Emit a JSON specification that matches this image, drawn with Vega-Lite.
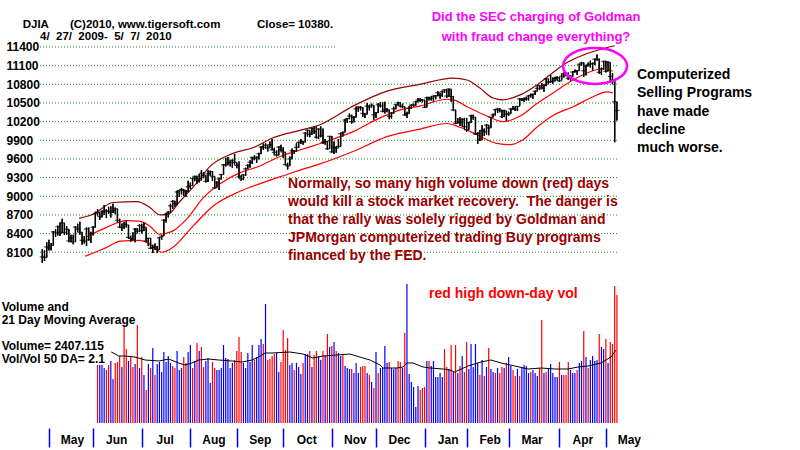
{
"$schema":"https://vega.github.io/schema/vega-lite/v6.json",
"width":760,"height":428,
"autosize":{"type":"none"},
"padding":{"left":40,"top":0,"right":0,"bottom":22},
"background":"white",
"config":{"view":{"stroke":null},"text":{"font":"Liberation Sans"}},
"datasets":{
"levels":[{"p":8100},{"p":8400},{"p":8700},{"p":9000},{"p":9300},{"p":9600},{"p":9900},{"p":10200},{"p":10500},{"p":10800},{"p":11100},{"p":11400}],
"price":[
{"i":0,"c":8025,"h":8150,"l":7930},{"i":1,"c":8017,"h":8130,"l":7960},{"i":2,"c":8186,"h":8260,"l":8017},{"i":3,"c":8168,"h":8300,"l":8130},{"i":4,"c":8212,"h":8250,"l":8130},{"i":5,"c":8427,"h":8440,"l":8210},{"i":6,"c":8411,"h":8470,"l":8350},{"i":7,"c":8512,"h":8530,"l":8370},{"i":8,"c":8410,"h":8580,"l":8360},{"i":9,"c":8575,"h":8640,"l":8410},
{"i":10,"c":8419,"h":8570,"l":8380},{"i":11,"c":8469,"h":8520,"l":8380},{"i":12,"c":8285,"h":8470,"l":8260},{"i":13,"c":8331,"h":8380,"l":8260},{"i":14,"c":8269,"h":8380,"l":8230},{"i":15,"c":8504,"h":8520,"l":8270},{"i":16,"c":8475,"h":8560,"l":8430},{"i":17,"c":8422,"h":8590,"l":8380},{"i":18,"c":8292,"h":8420,"l":8220},{"i":19,"c":8277,"h":8360,"l":8240},
{"i":20,"c":8473,"h":8500,"l":8200},{"i":21,"c":8300,"h":8500,"l":8290},{"i":22,"c":8404,"h":8430,"l":8250},{"i":23,"c":8500,"h":8520,"l":8370},{"i":24,"c":8721,"h":8750,"l":8500},{"i":25,"c":8741,"h":8790,"l":8690},{"i":26,"c":8675,"h":8740,"l":8620},{"i":27,"c":8750,"h":8770,"l":8660},{"i":28,"c":8763,"h":8860,"l":8700},{"i":29,"c":8764,"h":8790,"l":8650},
{"i":30,"c":8763,"h":8830,"l":8720},{"i":31,"c":8739,"h":8840,"l":8660},{"i":32,"c":8771,"h":8880,"l":8730},{"i":33,"c":8799,"h":8820,"l":8710},{"i":34,"c":8612,"h":8800,"l":8580},{"i":35,"c":8505,"h":8640,"l":8490},{"i":36,"c":8497,"h":8560,"l":8440},{"i":37,"c":8556,"h":8590,"l":8480},{"i":38,"c":8540,"h":8610,"l":8500},{"i":39,"c":8339,"h":8540,"l":8320},
{"i":40,"c":8323,"h":8370,"l":8270},{"i":41,"c":8300,"h":8420,"l":8290},{"i":42,"c":8472,"h":8490,"l":8260},{"i":43,"c":8438,"h":8490,"l":8400},{"i":44,"c":8529,"h":8550,"l":8430},{"i":45,"c":8447,"h":8560,"l":8400},{"i":46,"c":8504,"h":8580,"l":8440},{"i":47,"c":8281,"h":8500,"l":8260},{"i":48,"c":8325,"h":8330,"l":8200},{"i":49,"c":8164,"h":8330,"l":8150},
{"i":50,"c":8178,"h":8220,"l":8090},{"i":51,"c":8183,"h":8240,"l":8140},{"i":52,"c":8147,"h":8200,"l":8090},{"i":53,"c":8332,"h":8340,"l":8140},{"i":54,"c":8359,"h":8380,"l":8300},{"i":55,"c":8616,"h":8630,"l":8360},{"i":56,"c":8712,"h":8730,"l":8580},{"i":57,"c":8744,"h":8760,"l":8660},{"i":58,"c":8848,"h":8880,"l":8740},{"i":59,"c":8916,"h":8940,"l":8800},
{"i":60,"c":8881,"h":8930,"l":8830},{"i":61,"c":9069,"h":9090,"l":8860},{"i":62,"c":9093,"h":9100,"l":8990},{"i":63,"c":9109,"h":9130,"l":9030},{"i":64,"c":9097,"h":9110,"l":9010},{"i":65,"c":9071,"h":9100,"l":8990},{"i":66,"c":9154,"h":9250,"l":9070},{"i":67,"c":9172,"h":9220,"l":9120},{"i":68,"c":9287,"h":9300,"l":9170},{"i":69,"c":9320,"h":9330,"l":9240},
{"i":70,"c":9281,"h":9330,"l":9200},{"i":71,"c":9256,"h":9360,"l":9220},{"i":72,"c":9370,"h":9420,"l":9260},{"i":73,"c":9338,"h":9390,"l":9290},{"i":74,"c":9241,"h":9340,"l":9220},{"i":75,"c":9362,"h":9420,"l":9230},{"i":76,"c":9398,"h":9410,"l":9330},{"i":77,"c":9321,"h":9400,"l":9250},{"i":78,"c":9135,"h":9320,"l":9120},{"i":79,"c":9218,"h":9240,"l":9140},
{"i":80,"c":9279,"h":9300,"l":9100},{"i":81,"c":9350,"h":9360,"l":9270},{"i":82,"c":9506,"h":9520,"l":9350},{"i":83,"c":9509,"h":9620,"l":9480},{"i":84,"c":9539,"h":9630,"l":9500},{"i":85,"c":9544,"h":9580,"l":9480},{"i":86,"c":9581,"h":9590,"l":9460},{"i":87,"c":9544,"h":9680,"l":9510},{"i":88,"c":9496,"h":9540,"l":9450},{"i":89,"c":9311,"h":9560,"l":9290},
{"i":90,"c":9281,"h":9340,"l":9250},{"i":91,"c":9345,"h":9350,"l":9260},{"i":92,"c":9441,"h":9460,"l":9330},{"i":93,"c":9497,"h":9510,"l":9440},{"i":94,"c":9547,"h":9580,"l":9460},{"i":95,"c":9627,"h":9630,"l":9520},{"i":96,"c":9605,"h":9660,"l":9580},{"i":97,"c":9627,"h":9640,"l":9540},{"i":98,"c":9683,"h":9700,"l":9590},{"i":99,"c":9792,"h":9800,"l":9680},
{"i":100,"c":9784,"h":9850,"l":9750},{"i":101,"c":9820,"h":9850,"l":9770},{"i":102,"c":9779,"h":9820,"l":9720},{"i":103,"c":9830,"h":9880,"l":9780},{"i":104,"c":9749,"h":9920,"l":9740},{"i":105,"c":9707,"h":9780,"l":9660},{"i":106,"c":9665,"h":9740,"l":9640},{"i":107,"c":9789,"h":9810,"l":9660},{"i":108,"c":9742,"h":9830,"l":9720},{"i":109,"c":9712,"h":9790,"l":9620},
{"i":110,"c":9509,"h":9710,"l":9500},{"i":111,"c":9488,"h":9540,"l":9430},{"i":112,"c":9600,"h":9640,"l":9490},{"i":113,"c":9731,"h":9770,"l":9600},{"i":114,"c":9726,"h":9740,"l":9680},{"i":115,"c":9787,"h":9850,"l":9720},{"i":116,"c":9865,"h":9870,"l":9780},{"i":117,"c":9886,"h":9920,"l":9840},{"i":118,"c":9871,"h":9890,"l":9830},{"i":119,"c":10016,"h":10030,"l":9870},
{"i":120,"c":10063,"h":10070,"l":9960},{"i":121,"c":9996,"h":10060,"l":9950},{"i":122,"c":10092,"h":10100,"l":9990},{"i":123,"c":10042,"h":10120,"l":10000},{"i":124,"c":9949,"h":10120,"l":9930},{"i":125,"c":10081,"h":10090,"l":9920},{"i":126,"c":9972,"h":10120,"l":9950},{"i":127,"c":9868,"h":10090,"l":9840},{"i":128,"c":9882,"h":9920,"l":9830},{"i":129,"c":9763,"h":9890,"l":9750},
{"i":130,"c":9963,"h":9970,"l":9760},{"i":131,"c":9713,"h":9970,"l":9700},{"i":132,"c":9789,"h":9880,"l":9680},{"i":133,"c":9772,"h":9800,"l":9700},{"i":134,"c":9802,"h":9920,"l":9780},{"i":135,"c":10006,"h":10020,"l":9800},{"i":136,"c":10023,"h":10040,"l":9960},{"i":137,"c":10227,"h":10240,"l":10030},{"i":138,"c":10247,"h":10260,"l":10180},{"i":139,"c":10291,"h":10330,"l":10240},
{"i":140,"c":10197,"h":10310,"l":10170},{"i":141,"c":10270,"h":10290,"l":10190},{"i":142,"c":10407,"h":10440,"l":10270},{"i":143,"c":10437,"h":10440,"l":10360},{"i":144,"c":10426,"h":10450,"l":10380},{"i":145,"c":10332,"h":10430,"l":10280},{"i":146,"c":10318,"h":10340,"l":10260},{"i":147,"c":10451,"h":10500,"l":10320},{"i":148,"c":10434,"h":10470,"l":10380},{"i":149,"c":10464,"h":10490,"l":10430},
{"i":150,"c":10310,"h":10460,"l":10230},{"i":151,"c":10345,"h":10350,"l":10260},{"i":152,"c":10472,"h":10500,"l":10340},{"i":153,"c":10453,"h":10510,"l":10430},{"i":154,"c":10366,"h":10510,"l":10350},{"i":155,"c":10389,"h":10520,"l":10330},{"i":156,"c":10390,"h":10420,"l":10350},{"i":157,"c":10286,"h":10390,"l":10240},{"i":158,"c":10337,"h":10350,"l":10250},{"i":159,"c":10406,"h":10440,"l":10330},
{"i":160,"c":10472,"h":10480,"l":10400},{"i":161,"c":10501,"h":10520,"l":10460},{"i":162,"c":10452,"h":10510,"l":10430},{"i":163,"c":10441,"h":10490,"l":10420},{"i":164,"c":10308,"h":10440,"l":10290},{"i":165,"c":10329,"h":10360,"l":10260},{"i":166,"c":10414,"h":10450,"l":10330},{"i":167,"c":10465,"h":10480,"l":10410},{"i":168,"c":10466,"h":10490,"l":10440},{"i":169,"c":10520,"h":10530,"l":10460},
{"i":170,"c":10547,"h":10580,"l":10510},{"i":171,"c":10545,"h":10580,"l":10520},{"i":172,"c":10549,"h":10560,"l":10510},{"i":173,"c":10428,"h":10550,"l":10420},{"i":174,"c":10584,"h":10600,"l":10430},{"i":175,"c":10572,"h":10600,"l":10540},{"i":176,"c":10574,"h":10610,"l":10540},{"i":177,"c":10607,"h":10620,"l":10520},{"i":178,"c":10618,"h":10630,"l":10560},{"i":179,"c":10664,"h":10690,"l":10610},
{"i":180,"c":10627,"h":10660,"l":10570},{"i":181,"c":10681,"h":10700,"l":10600},{"i":182,"c":10711,"h":10720,"l":10660},{"i":183,"c":10610,"h":10720,"l":10580},{"i":184,"c":10725,"h":10730,"l":10600},{"i":185,"c":10603,"h":10720,"l":10520},{"i":186,"c":10390,"h":10610,"l":10370},{"i":187,"c":10173,"h":10390,"l":10160},{"i":188,"c":10197,"h":10260,"l":10170},{"i":189,"c":10194,"h":10270,"l":10130},
{"i":190,"c":10236,"h":10250,"l":10120},{"i":191,"c":10120,"h":10260,"l":10080},{"i":192,"c":10067,"h":10260,"l":10040},{"i":193,"c":10186,"h":10190,"l":10070},{"i":194,"c":10297,"h":10310,"l":10180},{"i":195,"c":10271,"h":10310,"l":10230},{"i":196,"c":10002,"h":10270,"l":9990},{"i":197,"c":10012,"h":10030,"l":9840},{"i":198,"c":9908,"h":10060,"l":9890},{"i":199,"c":10059,"h":10140,"l":9910},
{"i":200,"c":10038,"h":10090,"l":9970},{"i":201,"c":10144,"h":10160,"l":9990},{"i":202,"c":10099,"h":10140,"l":9980},{"i":203,"c":10269,"h":10280,"l":10100},{"i":204,"c":10309,"h":10330,"l":10270},{"i":205,"c":10393,"h":10400,"l":10300},{"i":206,"c":10402,"h":10420,"l":10340},{"i":207,"c":10383,"h":10420,"l":10350},{"i":208,"c":10282,"h":10390,"l":10260},{"i":209,"c":10374,"h":10390,"l":10280},
{"i":210,"c":10321,"h":10370,"l":10210},{"i":211,"c":10325,"h":10360,"l":10290},{"i":212,"c":10404,"h":10410,"l":10330},{"i":213,"c":10406,"h":10450,"l":10390},{"i":214,"c":10397,"h":10450,"l":10370},{"i":215,"c":10444,"h":10450,"l":10370},{"i":216,"c":10566,"h":10580,"l":10450},{"i":217,"c":10553,"h":10580,"l":10530},{"i":218,"c":10564,"h":10590,"l":10520},{"i":219,"c":10567,"h":10600,"l":10540},
{"i":220,"c":10612,"h":10620,"l":10540},{"i":221,"c":10625,"h":10650,"l":10590},{"i":222,"c":10642,"h":10650,"l":10570},{"i":223,"c":10686,"h":10700,"l":10630},{"i":224,"c":10734,"h":10780,"l":10690},{"i":225,"c":10779,"h":10790,"l":10710},{"i":226,"c":10742,"h":10820,"l":10720},{"i":227,"c":10786,"h":10800,"l":10680},{"i":228,"c":10889,"h":10900,"l":10770},{"i":229,"c":10836,"h":10890,"l":10800},
{"i":230,"c":10841,"h":10950,"l":10830},{"i":231,"c":10850,"h":10910,"l":10810},{"i":232,"c":10896,"h":10920,"l":10850},{"i":233,"c":10907,"h":10930,"l":10860},{"i":234,"c":10857,"h":10920,"l":10840},{"i":235,"c":10927,"h":10970,"l":10860},{"i":236,"c":10974,"h":10990,"l":10910},{"i":237,"c":10970,"h":11000,"l":10930},{"i":238,"c":10898,"h":10990,"l":10870},{"i":239,"c":10927,"h":10950,"l":10860},
{"i":240,"c":10997,"h":11010,"l":10920},{"i":241,"c":11006,"h":11040,"l":10990},{"i":242,"c":11019,"h":11030,"l":10950},{"i":243,"c":11123,"h":11130,"l":11020},{"i":244,"c":11145,"h":11160,"l":11100},{"i":245,"c":11019,"h":11150,"l":10920},{"i":246,"c":11092,"h":11110,"l":10940},{"i":247,"c":11117,"h":11150,"l":11090},{"i":248,"c":11125,"h":11180,"l":11070},{"i":249,"c":11134,"h":11150,"l":11020},
{"i":250,"c":11204,"h":11210,"l":11110},{"i":251,"c":11205,"h":11280,"l":11180},{"i":252,"c":10992,"h":11210,"l":10970},{"i":253,"c":11045,"h":11070,"l":10950},{"i":254,"c":11167,"h":11180,"l":11040},{"i":255,"c":11009,"h":11180,"l":10990},{"i":256,"c":11152,"h":11170,"l":11010},{"i":257,"c":10927,"h":11150,"l":10850},{"i":258,"c":10868,"h":10980,"l":10800},{"i":259,"c":10520,"h":10880,"l":9870},
{"i":260,"c":10380,"h":10520,"l":10220}],
"bands":[
{"b":"u","i":16.6,"p":8645},{"b":"u","i":23,"p":8710},{"b":"u","i":32,"p":8900},{"b":"u","i":42.9,"p":8915},{"b":"u","i":48.7,"p":8820},{"b":"u","i":53.3,"p":8700},{"b":"u","i":56.9,"p":8710},{"b":"u","i":62.3,"p":8920},{"b":"u","i":70,"p":9220},{"b":"u","i":75.9,"p":9480},{"b":"u","i":86.3,"p":9690},{"b":"u","i":95.3,"p":9780},{"b":"u","i":104.4,"p":9940},{"b":"u","i":116.6,"p":10060},{"b":"u","i":125.6,"p":10150},{"b":"u","i":140.6,"p":10450},{"b":"u","i":156,"p":10690},{"b":"u","i":170.9,"p":10800},{"b":"u","i":185.8,"p":10900},{"b":"u","i":192.2,"p":10870},{"b":"u","i":198,"p":10740},{"b":"u","i":203.9,"p":10580},{"b":"u","i":208.5,"p":10550},{"b":"u","i":216.2,"p":10630},{"b":"u","i":223.8,"p":10790},{"b":"u","i":231.1,"p":10990},{"b":"u","i":237.4,"p":11150},{"b":"u","i":244.7,"p":11270},{"b":"u","i":252.4,"p":11360},{"b":"u","i":259,"p":11420},
{"b":"m","i":20,"p":8345},{"b":"m","i":29,"p":8500},{"b":"m","i":38,"p":8610},{"b":"m","i":44,"p":8600},{"b":"m","i":49,"p":8510},{"b":"m","i":53,"p":8390},{"b":"m","i":59,"p":8440},{"b":"m","i":65.5,"p":8640},{"b":"m","i":72.7,"p":8970},{"b":"m","i":80.4,"p":9200},{"b":"m","i":89.5,"p":9380},{"b":"m","i":97.2,"p":9470},{"b":"m","i":107.6,"p":9640},{"b":"m","i":118,"p":9760},{"b":"m","i":130.2,"p":9900},{"b":"m","i":140.6,"p":10040},{"b":"m","i":152.8,"p":10260},{"b":"m","i":163.2,"p":10400},{"b":"m","i":170.9,"p":10450},{"b":"m","i":183.1,"p":10560},{"b":"m","i":186,"p":10550},{"b":"m","i":192.2,"p":10440},{"b":"m","i":201.2,"p":10290},{"b":"m","i":208.5,"p":10200},{"b":"m","i":216.2,"p":10290},{"b":"m","i":223.8,"p":10490},{"b":"m","i":231.1,"p":10660},{"b":"m","i":237.4,"p":10810},{"b":"m","i":243.3,"p":10930},{"b":"m","i":253.7,"p":11050},{"b":"m","i":258.2,"p":11010},
{"b":"l","i":19.3,"p":8035},{"b":"l","i":29.3,"p":8180},{"b":"l","i":35.2,"p":8280},{"b":"l","i":44.2,"p":8290},{"b":"l","i":48.7,"p":8230},{"b":"l","i":54.2,"p":8100},{"b":"l","i":59.1,"p":8180},{"b":"l","i":68.2,"p":8520},{"b":"l","i":77.2,"p":8840},{"b":"l","i":89.5,"p":9080},{"b":"l","i":99.9,"p":9220},{"b":"l","i":110.7,"p":9350},{"b":"l","i":116.6,"p":9420},{"b":"l","i":125.6,"p":9520},{"b":"l","i":140.6,"p":9720},{"b":"l","i":156,"p":9960},{"b":"l","i":170.9,"p":10080},{"b":"l","i":183.1,"p":10170},{"b":"l","i":189,"p":10110},{"b":"l","i":196.7,"p":9990},{"b":"l","i":205.7,"p":9850},{"b":"l","i":211.6,"p":9830},{"b":"l","i":217.5,"p":9910},{"b":"l","i":223.8,"p":10110},{"b":"l","i":231.1,"p":10300},{"b":"l","i":240.2,"p":10440},{"b":"l","i":249.2,"p":10600},{"b":"l","i":255.5,"p":10680},{"b":"l","i":258.2,"p":10660}],
"vol":[
{"i":25,"v":58,"d":"down"},{"i":26,"v":58,"d":"up"},{"i":27,"v":58,"d":"up"},{"i":28,"v":55,"d":"up"},{"i":29,"v":53,"d":"down"},{"i":30,"v":58,"d":"down"},{"i":31,"v":62,"d":"up"},{"i":32,"v":44,"d":"up"},{"i":33,"v":60,"d":"down"},{"i":34,"v":61,"d":"down"},
{"i":35,"v":67,"d":"down"},{"i":36,"v":56,"d":"up"},{"i":37,"v":98,"d":"down"},{"i":38,"v":74,"d":"down"},{"i":39,"v":62,"d":"up"},{"i":40,"v":67,"d":"down"},{"i":41,"v":56,"d":"down"},{"i":42,"v":59,"d":"up"},{"i":43,"v":98,"d":"down"},{"i":44,"v":55,"d":"up"},
{"i":45,"v":66,"d":"down"},{"i":46,"v":48,"d":"up"},{"i":47,"v":33,"d":"down"},{"i":48,"v":59,"d":"up"},{"i":49,"v":55,"d":"down"},{"i":50,"v":75,"d":"up"},{"i":51,"v":48,"d":"down"},{"i":52,"v":59,"d":"up"},{"i":53,"v":61,"d":"up"},{"i":54,"v":51,"d":"up"},
{"i":55,"v":71,"d":"up"},{"i":56,"v":61,"d":"up"},{"i":57,"v":67,"d":"up"},{"i":58,"v":60,"d":"up"},{"i":59,"v":57,"d":"down"},{"i":60,"v":55,"d":"down"},{"i":61,"v":72,"d":"up"},{"i":62,"v":53,"d":"up"},{"i":63,"v":55,"d":"up"},{"i":64,"v":66,"d":"down"},
{"i":65,"v":60,"d":"down"},{"i":66,"v":71,"d":"up"},{"i":67,"v":78,"d":"up"},{"i":68,"v":55,"d":"down"},{"i":69,"v":62,"d":"up"},{"i":70,"v":80,"d":"down"},{"i":71,"v":72,"d":"up"},{"i":72,"v":76,"d":"down"},{"i":73,"v":56,"d":"down"},{"i":74,"v":62,"d":"up"},
{"i":75,"v":65,"d":"up"},{"i":76,"v":40,"d":"up"},{"i":77,"v":61,"d":"down"},{"i":78,"v":55,"d":"down"},{"i":79,"v":53,"d":"up"},{"i":80,"v":53,"d":"up"},{"i":81,"v":55,"d":"up"},{"i":82,"v":78,"d":"up"},{"i":83,"v":65,"d":"up"},{"i":84,"v":64,"d":"up"},
{"i":85,"v":55,"d":"up"},{"i":86,"v":60,"d":"up"},{"i":87,"v":63,"d":"down"},{"i":88,"v":72,"d":"down"},{"i":89,"v":86,"d":"down"},{"i":90,"v":71,"d":"down"},{"i":91,"v":60,"d":"up"},{"i":92,"v":55,"d":"up"},{"i":93,"v":70,"d":"up"},{"i":94,"v":61,"d":"up"},
{"i":95,"v":78,"d":"up"},{"i":96,"v":63,"d":"down"},{"i":97,"v":66,"d":"up"},{"i":98,"v":78,"d":"up"},{"i":99,"v":84,"d":"up"},{"i":100,"v":79,"d":"down"},{"i":101,"v":119,"d":"up"},{"i":102,"v":63,"d":"down"},{"i":103,"v":64,"d":"down"},{"i":104,"v":67,"d":"down"},
{"i":105,"v":69,"d":"down"},{"i":106,"v":70,"d":"up"},{"i":107,"v":51,"d":"up"},{"i":108,"v":61,"d":"down"},{"i":109,"v":93,"d":"down"},{"i":110,"v":73,"d":"down"},{"i":111,"v":85,"d":"down"},{"i":112,"v":58,"d":"up"},{"i":113,"v":60,"d":"up"},{"i":114,"v":53,"d":"down"},
{"i":115,"v":60,"d":"up"},{"i":116,"v":56,"d":"up"},{"i":117,"v":49,"d":"up"},{"i":118,"v":60,"d":"down"},{"i":119,"v":69,"d":"up"},{"i":120,"v":69,"d":"up"},{"i":121,"v":72,"d":"down"},{"i":122,"v":56,"d":"up"},{"i":123,"v":68,"d":"down"},{"i":124,"v":72,"d":"down"},
{"i":125,"v":67,"d":"up"},{"i":126,"v":63,"d":"up"},{"i":127,"v":72,"d":"down"},{"i":128,"v":67,"d":"up"},{"i":129,"v":89,"d":"down"},{"i":130,"v":76,"d":"up"},{"i":131,"v":77,"d":"down"},{"i":132,"v":81,"d":"up"},{"i":133,"v":72,"d":"down"},{"i":134,"v":70,"d":"up"},
{"i":135,"v":67,"d":"up"},{"i":136,"v":68,"d":"down"},{"i":137,"v":57,"d":"up"},{"i":138,"v":55,"d":"up"},{"i":139,"v":54,"d":"up"},{"i":140,"v":54,"d":"down"},{"i":141,"v":50,"d":"up"},{"i":142,"v":60,"d":"up"},{"i":143,"v":50,"d":"up"},{"i":144,"v":56,"d":"down"},
{"i":145,"v":57,"d":"down"},{"i":146,"v":57,"d":"down"},{"i":147,"v":50,"d":"up"},{"i":148,"v":48,"d":"down"},{"i":149,"v":41,"d":"up"},{"i":150,"v":35,"d":"down"},{"i":151,"v":71,"d":"up"},{"i":152,"v":50,"d":"down"},{"i":153,"v":55,"d":"up"},{"i":154,"v":55,"d":"up"},
{"i":155,"v":77,"d":"up"},{"i":156,"v":60,"d":"up"},{"i":157,"v":61,"d":"down"},{"i":158,"v":55,"d":"up"},{"i":159,"v":54,"d":"up"},{"i":160,"v":55,"d":"up"},{"i":161,"v":62,"d":"down"},{"i":162,"v":61,"d":"down"},{"i":163,"v":55,"d":"up"},{"i":164,"v":90,"d":"down"},
{"i":165,"v":139,"d":"up"},{"i":166,"v":49,"d":"up"},{"i":167,"v":41,"d":"up"},{"i":168,"v":36,"d":"up"},{"i":169,"v":16,"d":"up"},{"i":170,"v":37,"d":"up"},{"i":171,"v":33,"d":"down"},{"i":172,"v":35,"d":"down"},{"i":173,"v":36,"d":"down"},{"i":174,"v":62,"d":"up"},
{"i":175,"v":62,"d":"down"},{"i":176,"v":57,"d":"up"},{"i":177,"v":62,"d":"up"},{"i":178,"v":46,"d":"up"},{"i":179,"v":46,"d":"up"},{"i":180,"v":50,"d":"up"},{"i":181,"v":46,"d":"up"},{"i":182,"v":74,"d":"down"},{"i":183,"v":56,"d":"down"},{"i":184,"v":54,"d":"up"},
{"i":185,"v":78,"d":"down"},{"i":186,"v":51,"d":"up"},{"i":187,"v":78,"d":"down"},{"i":188,"v":50,"d":"up"},{"i":189,"v":57,"d":"down"},{"i":190,"v":67,"d":"up"},{"i":191,"v":51,"d":"down"},{"i":192,"v":81,"d":"down"},{"i":193,"v":54,"d":"up"},{"i":194,"v":79,"d":"up"},
{"i":195,"v":56,"d":"up"},{"i":196,"v":79,"d":"up"},{"i":197,"v":60,"d":"up"},{"i":198,"v":48,"d":"down"},{"i":199,"v":63,"d":"up"},{"i":200,"v":47,"d":"down"},{"i":201,"v":56,"d":"up"},{"i":202,"v":75,"d":"down"},{"i":203,"v":54,"d":"up"},{"i":204,"v":51,"d":"up"},
{"i":205,"v":50,"d":"down"},{"i":206,"v":55,"d":"up"},{"i":207,"v":50,"d":"down"},{"i":208,"v":56,"d":"down"},{"i":209,"v":55,"d":"up"},{"i":210,"v":60,"d":"down"},{"i":211,"v":66,"d":"up"},{"i":212,"v":57,"d":"up"},{"i":213,"v":53,"d":"down"},{"i":214,"v":47,"d":"down"},
{"i":215,"v":54,"d":"up"},{"i":216,"v":47,"d":"down"},{"i":217,"v":56,"d":"up"},{"i":218,"v":58,"d":"up"},{"i":219,"v":57,"d":"up"},{"i":220,"v":50,"d":"up"},{"i":221,"v":51,"d":"down"},{"i":222,"v":53,"d":"up"},{"i":223,"v":50,"d":"up"},{"i":224,"v":47,"d":"up"},
{"i":225,"v":55,"d":"down"},{"i":226,"v":103,"d":"down"},{"i":227,"v":50,"d":"up"},{"i":228,"v":51,"d":"down"},{"i":229,"v":54,"d":"up"},{"i":230,"v":59,"d":"up"},{"i":231,"v":50,"d":"up"},{"i":232,"v":46,"d":"up"},{"i":233,"v":46,"d":"up"},{"i":234,"v":61,"d":"down"},
{"i":235,"v":48,"d":"up"},{"i":236,"v":48,"d":"down"},{"i":237,"v":48,"d":"down"},{"i":238,"v":61,"d":"down"},{"i":239,"v":53,"d":"up"},{"i":240,"v":50,"d":"up"},{"i":241,"v":50,"d":"up"},{"i":242,"v":53,"d":"down"},{"i":243,"v":60,"d":"up"},{"i":244,"v":62,"d":"up"},
{"i":245,"v":92,"d":"down"},{"i":246,"v":66,"d":"up"},{"i":247,"v":55,"d":"down"},{"i":248,"v":63,"d":"up"},{"i":249,"v":67,"d":"up"},{"i":250,"v":62,"d":"up"},{"i":251,"v":63,"d":"up"},{"i":252,"v":89,"d":"down"},{"i":253,"v":76,"d":"up"},{"i":254,"v":74,"d":"up"},
{"i":255,"v":84,"d":"down"},{"i":256,"v":60,"d":"up"},{"i":257,"v":81,"d":"down"},{"i":258,"v":79,"d":"down"},{"i":259,"v":137,"d":"down"},{"i":260,"v":128,"d":"down"}],
"ma":[
{"i":31.2,"v":71},{"i":34.6,"v":67},{"i":37.4,"v":67},{"i":41.9,"v":66},{"i":46.5,"v":63},{"i":52.7,"v":62},{"i":57.2,"v":64},{"i":61.7,"v":60},{"i":64.6,"v":58},{"i":67.7,"v":60},{"i":70.8,"v":63},{"i":75.3,"v":64},{"i":79.8,"v":63},{"i":85.8,"v":62},{"i":90.4,"v":61},{"i":94.9,"v":63},{"i":97.9,"v":66},{"i":100.8,"v":70},{"i":103.9,"v":70},{"i":112,"v":71},{"i":118,"v":69},{"i":122.5,"v":65},{"i":127,"v":67},{"i":133.2,"v":68},{"i":139.2,"v":69},{"i":145.1,"v":65},{"i":148.3,"v":63},{"i":152.8,"v":58},{"i":154.2,"v":55},{"i":160.4,"v":55},{"i":163.2,"v":56},{"i":164.9,"v":60},{"i":167.7,"v":60},{"i":172.3,"v":56},{"i":175.4,"v":55},{"i":181.3,"v":54},{"i":184.5,"v":53},{"i":186.6,"v":51},{"i":192.6,"v":57},{"i":198.5,"v":61},{"i":203,"v":63},{"i":207.6,"v":60},{"i":213.8,"v":57},{"i":219.8,"v":54},{"i":225.7,"v":55},{"i":231.9,"v":54},{"i":237.9,"v":54},{"i":242.4,"v":56},{"i":246.9,"v":57},{"i":252.8,"v":60},{"i":257.3,"v":66},{"i":259.6,"v":73}]
},
"layer":[
{"data":{"name":"price"},
 "mark":{"type":"rule","color":"#000000","strokeWidth":1.3},
 "encoding":{
  "x":{"field":"i","type":"quantitative","scale":{"domain":[-1.04,342.85],"nice":false,"zero":false},
   "axis":{"values":[3,23,45,67,88,109,131,151,173,192,211,234,255],
    "labelExpr":"['May','Jun','Jul','Aug','Sep','Oct','Nov','Dec','Jan','Feb','Mar','Apr','May'][indexof([3,23,45,67,88,109,131,151,173,192,211,234,255], datum.value)]",
    "orient":"bottom","offset":0,"domain":false,"grid":false,"ticks":true,"tickColor":"#0000FF","tickSize":19,"tickWidth":1.5,
    "labelFont":"Liberation Sans","labelFontSize":12,"labelFontWeight":"bold","labelColor":"#000000","labelOffset":23,"labelPadding":-13,
    "labelOverlap":false,"labelFlush":false,"labelBound":false,"title":null}},
  "y":{"field":"l","type":"quantitative","scale":{"domain":[5274.7,12155.6],"nice":false,"zero":false},
   "axis":{"values":[8100,8400,8700,9000,9300,9600,9900,10200,10500,10800,11100,11400],"format":"d",
    "labelAlign":"left","labelBaseline":"middle","labelPadding":34,"ticks":false,"domain":false,"grid":false,
    "labelFont":"Liberation Sans","labelFontSize":12,"labelFontWeight":"bold","labelColor":"#000000",
    "labelOverlap":false,"labelFlush":false,"labelBound":false,"title":null}},
  "y2":{"field":"h"}}},
{"data":{"name":"levels"},"transform":[{"filter":"datum.p < 11400"}],
 "mark":{"type":"rule","color":"#1a8c1a","strokeDash":[1,2],"strokeWidth":1},
 "encoding":{"x":{"datum":-1.04,"type":"quantitative","scale":{"domain":[-1.04,342.85],"nice":false,"zero":false}},"x2":{"datum":260.05},
  "y":{"field":"p","type":"quantitative","scale":{"domain":[5274.7,12155.6],"nice":false,"zero":false},"axis":null}}},
{"data":{"name":"levels"},"transform":[{"filter":"datum.p == 11400"}],
 "mark":{"type":"rule","color":"#1a8c1a","strokeDash":[1,2],"strokeWidth":1},
 "encoding":{"x":{"datum":-1.04,"type":"quantitative","scale":{"domain":[-1.04,342.85],"nice":false,"zero":false}},"x2":{"datum":133.4},
  "y":{"field":"p","type":"quantitative","scale":{"domain":[5274.7,12155.6],"nice":false,"zero":false},"axis":null}}},
{"data":{"name":"bands"},"transform":[{"filter":"datum.b == 'u'"}],
 "mark":{"type":"line","color":"#990000","strokeWidth":1.2,"interpolate":"monotone"},
 "encoding":{"x":{"field":"i","type":"quantitative","scale":{"domain":[-1.04,342.85],"nice":false,"zero":false}},
  "y":{"field":"p","type":"quantitative","scale":{"domain":[5274.7,12155.6],"nice":false,"zero":false},"axis":null}}},
{"data":{"name":"bands"},"transform":[{"filter":"datum.b == 'm'"}],
 "mark":{"type":"line","color":"#FF0000","strokeWidth":1.2,"interpolate":"monotone"},
 "encoding":{"x":{"field":"i","type":"quantitative","scale":{"domain":[-1.04,342.85],"nice":false,"zero":false}},
  "y":{"field":"p","type":"quantitative","scale":{"domain":[5274.7,12155.6],"nice":false,"zero":false},"axis":null}}},
{"data":{"name":"bands"},"transform":[{"filter":"datum.b == 'l'"}],
 "mark":{"type":"line","color":"#FF0000","strokeWidth":1.2,"interpolate":"monotone"},
 "encoding":{"x":{"field":"i","type":"quantitative","scale":{"domain":[-1.04,342.85],"nice":false,"zero":false}},
  "y":{"field":"p","type":"quantitative","scale":{"domain":[5274.7,12155.6],"nice":false,"zero":false},"axis":null}}},
{"data":{"name":"price"},
 "mark":{"type":"rule","color":"#000000","strokeWidth":1.3},
 "encoding":{"x":{"field":"i","type":"quantitative","scale":{"domain":[-1.04,342.85],"nice":false,"zero":false}},
  "y":{"field":"l","type":"quantitative","scale":{"domain":[5274.7,12155.6],"nice":false,"zero":false},"axis":null},
  "y2":{"field":"h"}}},
{"data":{"name":"price"},
 "mark":{"type":"tick","orient":"horizontal","color":"#000000","size":5,"thickness":1.3},
 "encoding":{"x":{"field":"i","type":"quantitative","scale":{"domain":[-1.04,342.85],"nice":false,"zero":false}},
  "y":{"field":"c","type":"quantitative","scale":{"domain":[5274.7,12155.6],"nice":false,"zero":false},"axis":null}}},
{"data":{"values":[{}]},
 "mark":{"type":"point","shape":"M-1,0A1,0.56,0,1,0,1,0A1,0.56,0,1,0,-1,0Z","size":4096,"filled":false,"stroke":"#FF00FF","strokeWidth":2.5,"opacity":1},
 "encoding":{"x":{"datum":250.1,"type":"quantitative","scale":{"domain":[-1.04,342.85],"nice":false,"zero":false}},
  "y":{"datum":11095,"type":"quantitative","scale":{"domain":[5274.7,12155.6],"nice":false,"zero":false},"axis":null}}},
{"data":{"values":[{}]},
 "mark":{"type":"text","text":"DJIA","align":"left","baseline":"alphabetic","font":"Liberation Sans","fontSize":11.5,"fontWeight":"bold","color":"#000000"},
 "encoding":{"x":{"datum":-8.87,"type":"quantitative","scale":{"domain":[-1.04,342.85],"nice":false,"zero":false}},
  "y":{"datum":11705,"type":"quantitative","scale":{"domain":[5274.7,12155.6],"nice":false,"zero":false},"axis":null}}},
{"data":{"values":[{}]},
 "mark":{"type":"text","text":"(C)2010, www.tigersoft.com","align":"left","baseline":"alphabetic","font":"Liberation Sans","fontSize":11.5,"fontWeight":"bold","color":"#000000"},
 "encoding":{"x":{"datum":12.53,"type":"quantitative","scale":{"domain":[-1.04,342.85],"nice":false,"zero":false}},
  "y":{"datum":11705,"type":"quantitative","scale":{"domain":[5274.7,12155.6],"nice":false,"zero":false},"axis":null}}},
{"data":{"values":[{}]},
 "mark":{"type":"text","text":"Close=","align":"left","baseline":"alphabetic","font":"Liberation Sans","fontSize":11.5,"fontWeight":"bold","color":"#000000"},
 "encoding":{"x":{"datum":97.15,"type":"quantitative","scale":{"domain":[-1.04,342.85],"nice":false,"zero":false}},
  "y":{"datum":11705,"type":"quantitative","scale":{"domain":[5274.7,12155.6],"nice":false,"zero":false},"axis":null}}},
{"data":{"values":[{}]},
 "mark":{"type":"text","text":"10380.","align":"left","baseline":"alphabetic","font":"Liberation Sans","fontSize":11.5,"fontWeight":"bold","color":"#000000"},
 "encoding":{"x":{"datum":115.7,"type":"quantitative","scale":{"domain":[-1.04,342.85],"nice":false,"zero":false}},
  "y":{"datum":11705,"type":"quantitative","scale":{"domain":[5274.7,12155.6],"nice":false,"zero":false},"axis":null}}},
{"data":{"values":[{}]},
 "mark":{"type":"text","text":"4/\u00a0 27/\u00a0 2009-\u00a0 5/\u00a0 7/\u00a0 2010","align":"left","baseline":"alphabetic","font":"Liberation Sans","fontSize":11.5,"fontWeight":"bold","color":"#000000"},
 "encoding":{"x":{"datum":-1.04,"type":"quantitative","scale":{"domain":[-1.04,342.85],"nice":false,"zero":false}},
  "y":{"datum":11512,"type":"quantitative","scale":{"domain":[5274.7,12155.6],"nice":false,"zero":false},"axis":null}}},
{"data":{"values":[{}]},
 "mark":{"type":"text","text":["Did the SEC charging of Goldman","with fraud change everything?"],"lineHeight":20,"align":"center","baseline":"alphabetic","font":"Liberation Sans","fontSize":13,"fontWeight":"bold","color":"#FF00FF"},
 "encoding":{"x":{"datum":223.4,"type":"quantitative","scale":{"domain":[-1.04,342.85],"nice":false,"zero":false}},
  "y":{"datum":11810,"type":"quantitative","scale":{"domain":[5274.7,12155.6],"nice":false,"zero":false},"axis":null}}},
{"data":{"values":[{}]},
 "mark":{"type":"text","text":["Normally, so many high volume down (red) days","would kill a stock market recovery.\u00a0 The danger is","that the rally was solely rigged by Goldman and","JPMorgan computerized trading Buy programs","financed by the FED."],"lineHeight":18,"align":"left","baseline":"alphabetic","font":"Liberation Sans","fontSize":14,"fontWeight":"bold","color":"#990000"},
 "encoding":{"x":{"datum":111.2,"type":"quantitative","scale":{"domain":[-1.04,342.85],"nice":false,"zero":false}},
  "y":{"datum":9128,"type":"quantitative","scale":{"domain":[5274.7,12155.6],"nice":false,"zero":false},"axis":null}}},
{"data":{"values":[{}]},
 "mark":{"type":"text","text":["Computerized","Selling Programs","have made","decline","much worse."],"lineHeight":18.3,"align":"left","baseline":"alphabetic","font":"Liberation Sans","fontSize":14,"fontWeight":"bold","color":"#000000"},
 "encoding":{"x":{"datum":269.1,"type":"quantitative","scale":{"domain":[-1.04,342.85],"nice":false,"zero":false}},
  "y":{"datum":10885,"type":"quantitative","scale":{"domain":[5274.7,12155.6],"nice":false,"zero":false},"axis":null}}},
{"data":{"name":"vol"},
 "mark":{"type":"rule","strokeWidth":1.2},
 "encoding":{"x":{"field":"i","type":"quantitative","scale":{"domain":[-1.04,342.85],"nice":false,"zero":false}},
  "y":{"field":"v","type":"quantitative","scale":{"domain":[-5,423],"nice":false,"zero":false},"axis":null},
  "y2":{"datum":0},
  "color":{"field":"d","type":"nominal","scale":{"domain":["down","up"],"range":["#FF0000","#0000FF"]},"legend":null}}},
{"data":{"name":"ma"},
 "mark":{"type":"line","color":"#000000","strokeWidth":1},
 "encoding":{"x":{"field":"i","type":"quantitative","scale":{"domain":[-1.04,342.85],"nice":false,"zero":false}},
  "y":{"field":"v","type":"quantitative","scale":{"domain":[-5,423],"nice":false,"zero":false},"axis":null}}},
{"data":{"values":[{}]},
 "mark":{"type":"text","text":["Volume and","21 Day Moving Average"],"lineHeight":12.5,"align":"left","baseline":"alphabetic","font":"Liberation Sans","fontSize":12,"fontWeight":"bold","color":"#000000"},
 "encoding":{"x":{"datum":-18.4,"type":"quantitative","scale":{"domain":[-1.04,342.85],"nice":false,"zero":false}},
  "y":{"datum":112,"type":"quantitative","scale":{"domain":[-5,423],"nice":false,"zero":false},"axis":null}}},
{"data":{"values":[{}]},
 "mark":{"type":"text","text":["Volume= 2407.115","Vol/Vol 50 DA= 2.1"],"lineHeight":12.5,"align":"left","baseline":"alphabetic","font":"Liberation Sans","fontSize":12,"fontWeight":"bold","color":"#000000"},
 "encoding":{"x":{"datum":-18.4,"type":"quantitative","scale":{"domain":[-1.04,342.85],"nice":false,"zero":false}},
  "y":{"datum":73,"type":"quantitative","scale":{"domain":[-5,423],"nice":false,"zero":false},"axis":null}}},
{"data":{"values":[{}]},
 "mark":{"type":"text","text":"red high down-day vol","align":"left","baseline":"alphabetic","font":"Liberation Sans","fontSize":14,"fontWeight":"bold","color":"#FF0000"},
 "encoding":{"x":{"datum":175,"type":"quantitative","scale":{"domain":[-1.04,342.85],"nice":false,"zero":false}},
  "y":{"datum":125,"type":"quantitative","scale":{"domain":[-5,423],"nice":false,"zero":false},"axis":null}}}
],
"resolve":{"scale":{"y":"independent"}}
}
